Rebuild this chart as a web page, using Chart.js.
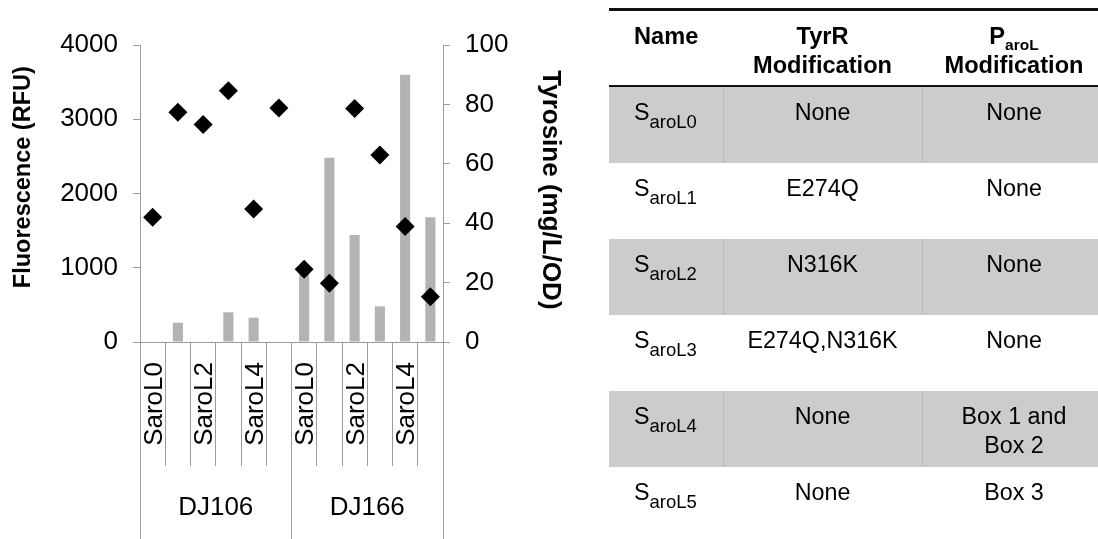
<!DOCTYPE html>
<html>
<head>
<meta charset="utf-8">
<script src="https://cdn.jsdelivr.net/npm/chart.js@4"></script>
<style>
  html, body { margin: 0; padding: 0; background: #fff; width: 1098px; height: 539px; overflow: hidden; }
  body { font-family: "Liberation Sans", Arial, Helvetica, sans-serif; color: #000; position: relative; }
  #chartWrap { position: absolute; left: 0; top: 0; width: 580px; height: 539px; }
  #tbl { position: absolute; left: 0; top: 0; width: 1098px; height: 539px; }
  .abs { position: absolute; }
  .cell { position: absolute; font-size: 23.3px; line-height: 29px; white-space: pre-line; }
  .hdr { font-weight: bold; font-size: 23.6px; }
  .sub { font-size: 18.5px; line-height: 0; position: relative; top: 8px; }
  .hsub { font-size: 15.5px; line-height: 0; position: relative; top: 6px; font-weight: bold; }
</style>
</head>
<body>
<div id="chartWrap"><canvas id="c" width="580" height="539"></canvas></div>
<div id="tbl"></div>
<script>
// ---------- chart data ----------
const categories = ['SaroL0','SaroL1','SaroL2','SaroL3','SaroL4','SaroL5',
                    'SaroL0','SaroL1','SaroL2','SaroL3','SaroL4','SaroL5'];
const groups = ['DJ106', 'DJ166'];
const tyrosine = [null, 6.5, null, 10, 8.2, null, 24, 62, 36, 12, 90, 42];          // bars, right axis
const fluorescence = [1680, 3095, 2930, 3385, 1790, 3150, 980, 790, 3145, 2520, 1555, 610]; // diamonds, left axis
const fluorescenceTicks = [0, 1000, 2000, 3000, 4000];
const tyrosineTicks = [0, 20, 40, 60, 80, 100];
const leftTitle = 'Fluorescence (RFU)';
const rightTitle = 'Tyrosine (mg/L/OD)';

// ---------- table data ----------
const tableHeaders = ['Name', 'TyrR\nModification', 'Modification'];
const strainSuffix = ['aroL0', 'aroL1', 'aroL2', 'aroL3', 'aroL4', 'aroL5'];
const tyrRMods = ['None', 'E274Q', 'N316K', 'E274Q,N316K', 'None', 'None'];
const parolMods = ['None', 'None', 'None', 'None', 'Box 1 and\nBox 2', 'Box 3'];

Chart.defaults.font.family = '"Liberation Sans", Arial, Helvetica, sans-serif';
Chart.defaults.color = '#000';
const axisColor = '#9c9c9c';

new Chart(document.getElementById('c'), {
  type: 'bar',
  data: {
    labels: categories,
    datasets: [
      {
        type: 'line',
        label: 'Fluorescence',
        data: fluorescence,
        yAxisID: 'y',
        xAxisID: 'x',
        showLine: false,
        pointStyle: 'rectRot',
        pointRadius: 9.5,
        pointBackgroundColor: '#000',
        pointBorderColor: '#000',
        pointBorderWidth: 0,
        order: 0
      },
      {
        type: 'bar',
        label: 'Tyrosine',
        data: tyrosine,
        yAxisID: 'y1',
        xAxisID: 'x',
        backgroundColor: '#b3b3b3',
        borderWidth: 0,
        barPercentage: 0.4,
        categoryPercentage: 1.0,
        order: 1
      }
    ]
  },
  options: {
    responsive: false,
    animation: false,
    devicePixelRatio: 1,
    layout: { padding: { top: 45, left: 0, right: 0, bottom: 0 } },
    plugins: { legend: { display: false }, tooltip: { enabled: false } },
    scales: {
      x: {
        type: 'category',
        position: 'bottom',
        weight: 0,
        offset: true,
        grid: { offset: true, drawOnChartArea: false, tickLength: 124, color: axisColor, lineWidth: 1 },
        border: { color: axisColor, width: 1 },
        ticks: {
          autoSkip: false, minRotation: 90, maxRotation: 90, padding: -104, labelOffset: 2,
          font: { size: 26 }, color: '#000',
          callback: (v, i) => (i % 2 === 0 ? categories[i] : '')
        },
        afterFit: s => { s.height = 124; }
      },
      x2: {
        type: 'category',
        labels: groups,
        position: 'bottom',
        weight: 1,
        offset: true,
        grid: { offset: true, drawOnChartArea: false, tickLength: 73, color: axisColor, lineWidth: 1 },
        border: { display: false },
        ticks: { autoSkip: false, maxRotation: 0, minRotation: 0, padding: -47, font: { size: 26 }, color: '#000' },
        afterFit: s => { s.height = 73; }
      },
      y: {
        position: 'left',
        min: fluorescenceTicks[0],
        max: fluorescenceTicks[fluorescenceTicks.length - 1],
        afterBuildTicks: s => { s.ticks = fluorescenceTicks.map(v => ({ value: v })); },
        grid: { drawOnChartArea: false, tickLength: 7, color: axisColor, lineWidth: 1 },
        border: { color: axisColor, width: 1 },
        ticks: { padding: 15, font: { size: 26 }, color: '#000', callback: v => String(v) },
        title: {
          display: true, text: '     ' + leftTitle, color: '#000',
          font: { size: 23.5, weight: 'bold' }, padding: { top: 9, bottom: 0 }
        },
        afterFit: s => { s.width = 140; }
      },
      y1: {
        position: 'right',
        min: tyrosineTicks[0],
        max: tyrosineTicks[tyrosineTicks.length - 1],
        afterBuildTicks: s => { s.ticks = tyrosineTicks.map(v => ({ value: v })); },
        grid: { drawOnChartArea: false, tickLength: 7, color: axisColor, lineWidth: 1 },
        border: { color: axisColor, width: 1 },
        ticks: { padding: 15, font: { size: 26 }, color: '#000', callback: v => String(v) },
        title: {
          display: true, text: rightTitle + ' ', color: '#000',
          font: { size: 26, weight: 'bold' }, padding: { top: 14, bottom: 0 }
        },
        afterFit: s => { s.width = 137; }
      }
    }
  }
});

// ---------- table ----------
(function buildTable() {
  const t = document.getElementById('tbl');
  const colX = [609, 723, 922];
  const colW = [114, 199, 184];
  const rowTop = [87, 163, 239, 315, 391, 467];
  const rowH = 76;
  const add = (html, style, cls) => {
    const d = document.createElement('div');
    d.className = cls || 'abs';
    d.innerHTML = html;
    Object.assign(d.style, style);
    t.appendChild(d);
    return d;
  };
  // row backgrounds
  rowTop.forEach((top, i) => {
    if (i % 2 === 0) {
      add('', { left: '609px', top: top + 'px', width: '489px', height: rowH + 'px', background: '#cccccc' });
      add('', { left: '723px', top: top + 'px', width: '1px', height: rowH + 'px', background: '#b9b9b9' });
      add('', { left: '922px', top: top + 'px', width: '1px', height: rowH + 'px', background: '#b9b9b9' });
    }
  });
  // rules
  add('', { left: '609px', top: '8px', width: '489px', height: '3px', background: '#111' });
  add('', { left: '609px', top: '85px', width: '489px', height: '2px', background: '#111' });
  // header
  add(tableHeaders[0], { left: '634px', top: '22px' }, 'cell hdr');
  add(tableHeaders[1], { left: colX[1] + 'px', top: '22px', width: colW[1] + 'px', textAlign: 'center' }, 'cell hdr');
  add('P<span class="hsub">aroL</span>\n' + tableHeaders[2],
      { left: colX[2] + 'px', top: '22px', width: colW[2] + 'px', textAlign: 'center' }, 'cell hdr');
  // body
  rowTop.forEach((top, i) => {
    const y = (top + 11) + 'px';
    add('S<span class="sub">' + strainSuffix[i] + '</span>', { left: '634px', top: y }, 'cell');
    add(tyrRMods[i], { left: colX[1] + 'px', top: y, width: colW[1] + 'px', textAlign: 'center' }, 'cell');
    add(parolMods[i], { left: colX[2] + 'px', top: y, width: colW[2] + 'px', textAlign: 'center' }, 'cell');
  });
})();
</script>
</body>
</html>
